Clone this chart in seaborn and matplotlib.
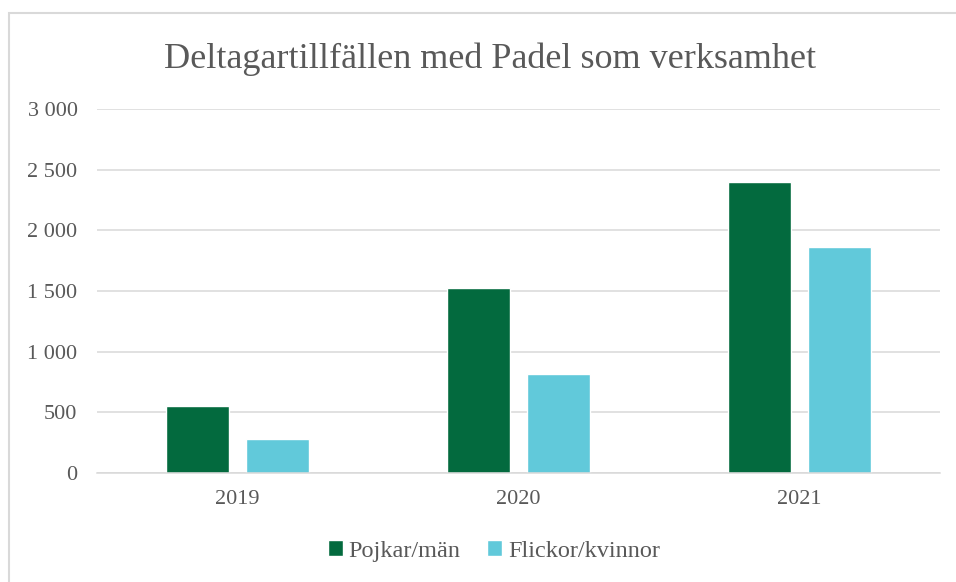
import matplotlib
matplotlib.use("Agg")
import pandas as pd
import seaborn as sns
from matplotlib import pyplot as plt
from matplotlib.ticker import FuncFormatter
from matplotlib.patches import Rectangle

years = ["2019", "2020", "2021"]
pojkar = [550, 1525, 2395]
flickor = [280, 820, 1865]
series_names = ["Pojkar/män", "Flickor/kvinnor"]
colors = ["#036A3E", "#61C9DA"]

df = pd.DataFrame({
    "year": years * 2,
    "value": pojkar + flickor,
    "serie": [series_names[0]] * 3 + [series_names[1]] * 3,
})

sns.set_style("white")
plt.rcParams["font.family"] = ["Liberation Serif", "DejaVu Serif"]
txt = "#595959"

fig = plt.figure(figsize=(9.56, 5.82), dpi=100)
# outer chart frame (left and top edges visible)
fig.add_artist(Rectangle((9 / 956, -0.1), 1.2, 1 - 13 / 582 + 0.1,
                         transform=fig.transFigure, fill=False,
                         edgecolor="#D9D9D9", linewidth=1.5))

ax = fig.add_axes([97 / 956, 1 - 473 / 582, (940 - 97) / 956, (473 - 109) / 582])
sns.barplot(data=df, x="year", y="value", hue="serie", palette=colors,
            width=0.569, gap=0.2125, saturation=1, ax=ax, legend=True)

ax.set_ylim(0, 3000)
ax.set_yticks(range(0, 3001, 500))
ax.yaxis.set_major_formatter(FuncFormatter(lambda v, p: f"{int(v):,}".replace(",", " ")))
ax.grid(axis="y", color="#D9D9D9", linewidth=1.1)
ax.set_axisbelow(True)
for s in ["top", "right", "left"]:
    ax.spines[s].set_visible(False)
ax.spines["bottom"].set_color("#D9D9D9")
ax.spines["bottom"].set_linewidth(1.1)
ax.tick_params(length=0, labelsize=16, colors=txt)
ax.tick_params(axis="y", pad=14)
ax.tick_params(axis="x", pad=12)
ax.set_xlabel("")
ax.set_ylabel("")

fig.text(490 / 956, 1 - 59 / 582, "Deltagartillfällen med Padel som verksamhet",
         ha="center", va="center", fontsize=26, color=txt)

handles, labels = ax.get_legend_handles_labels()
ax.legend_.remove()
fig.legend(handles, labels, loc="center", bbox_to_anchor=(494 / 956, 1 - 551 / 582),
           ncol=2, frameon=False, fontsize=17.5, labelcolor=txt,
           handlelength=0.6, handleheight=0.6, handletextpad=0.25, columnspacing=1.1)

fig.savefig("out.png", dpi=100)
